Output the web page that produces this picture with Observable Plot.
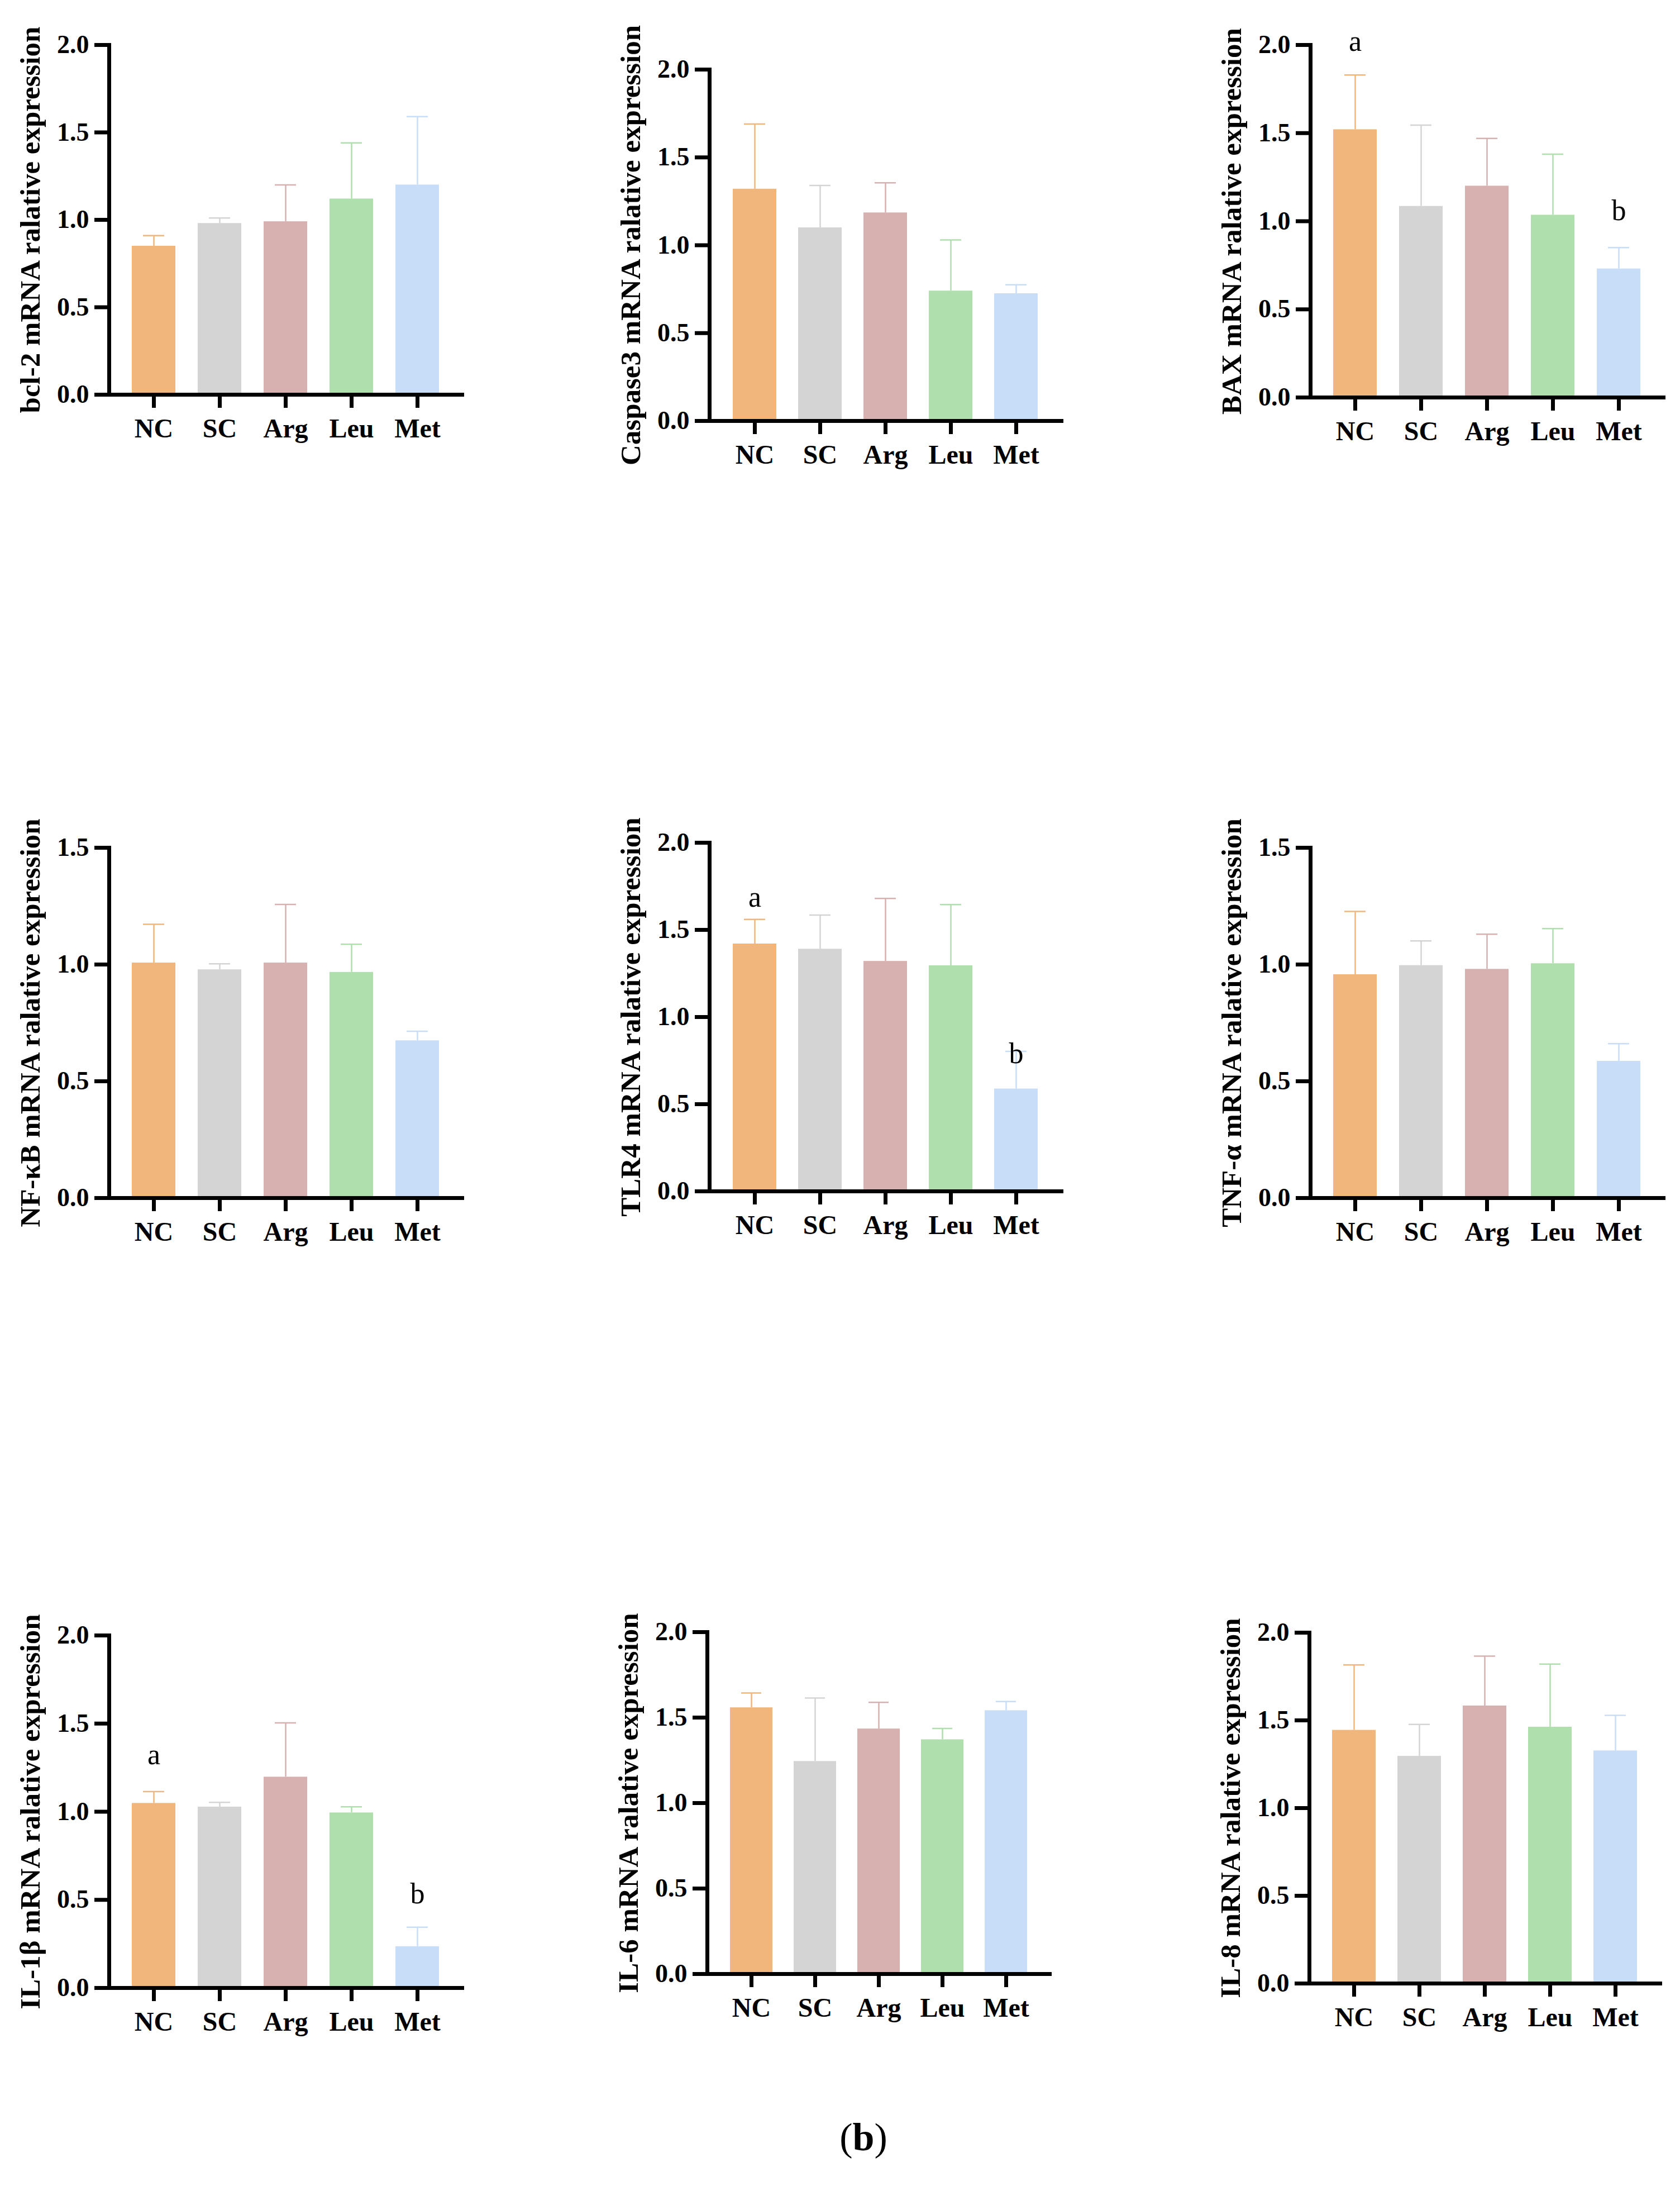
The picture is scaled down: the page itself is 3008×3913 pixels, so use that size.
<!DOCTYPE html>
<html>
<head>
<meta charset="utf-8">
<script src="https://cdn.jsdelivr.net/npm/d3@7"></script>
<script src="https://cdn.jsdelivr.net/npm/@observablehq/plot@0.6"></script>
<style>
  html, body { margin: 0; padding: 0; background: #fff; }
  #page { position: relative; width: 3008px; height: 3913px; background: #fff; overflow: hidden; }
  .panel { position: absolute; }
  .panel svg { overflow: visible; }
  #caption { position: absolute; left: 1346px; top: 3791px; width: 400px; text-align: center;
             font-family: "Liberation Serif", "Times New Roman", serif; font-size: 70px; line-height: 70px; color: #000; }
</style>
</head>
<body>
<div id="page"></div>
<script>
// ---------- data ----------
const groups = ["NC", "SC", "Arg", "Leu", "Met"];
const groupColors = ["#F0B67C", "#D4D4D4", "#D7B0B0", "#AEDFAC", "#C8DDF7"];

const bcl2Mean = [0.85, 0.98, 0.99, 1.12, 1.20];
const bcl2Err  = [0.06, 0.03, 0.21, 0.32, 0.39];

const casp3Mean = [1.32, 1.10, 1.185, 0.74, 0.725];
const casp3Err  = [0.37, 0.24, 0.17, 0.29, 0.05];

const baxMean = [1.52, 1.085, 1.20, 1.035, 0.73];
const baxErr  = [0.31, 0.46, 0.27, 0.345, 0.12];
const baxLetters = [{g: "NC", y: 1.966, t: "a"}, {g: "Met", y: 1.005, t: "b"}];

const nfkbMean = [1.007, 0.978, 1.007, 0.967, 0.674];
const nfkbErr  = [0.165, 0.025, 0.25, 0.12, 0.04];

const tlr4Mean = [1.42, 1.39, 1.32, 1.295, 0.588];
const tlr4Err  = [0.14, 0.195, 0.36, 0.35, 0.215];
const tlr4Letters = [{g: "NC", y: 1.634, t: "a"}, {g: "Met", y: 0.736, t: "b"}];

const tnfMean = [0.957, 0.996, 0.980, 1.004, 0.586];
const tnfErr  = [0.27, 0.105, 0.15, 0.15, 0.075];

const il1bMean = [1.048, 1.027, 1.197, 0.994, 0.235];
const il1bErr  = [0.066, 0.026, 0.307, 0.034, 0.11];
const il1bLetters = [{g: "NC", y: 1.27, t: "a"}, {g: "Met", y: 0.479, t: "b"}];

const il6Mean = [1.558, 1.244, 1.434, 1.371, 1.541];
const il6Err  = [0.086, 0.37, 0.155, 0.065, 0.053];

const il8Mean = [1.444, 1.296, 1.583, 1.462, 1.327];
const il8Err  = [0.372, 0.181, 0.283, 0.359, 0.202];

const ticks20 = [0, 0.5, 1.0, 1.5, 2.0];
const ticks15 = [0, 0.5, 1.0, 1.5];

// ---------- panels ----------
const panels = [
  {title: "bcl-2 mRNA ralative expression",    mean: bcl2Mean,  err: bcl2Err,  ymax: 2.0, ticks: ticks20, letters: [],          ax: 195,  top: 80,   bottom: 706,  len: 632},
  {title: "Caspase3 mRNA ralative expression", mean: casp3Mean, err: casp3Err, ymax: 2.0, ticks: ticks20, letters: [],          ax: 1270, top: 124,  bottom: 753,  len: 630},
  {title: "BAX mRNA ralative expression",      mean: baxMean,   err: baxErr,   ymax: 2.0, ticks: ticks20, letters: baxLetters,  ax: 2346, top: 80,   bottom: 711,  len: 632},
  {title: "NF-κB mRNA ralative expression",    mean: nfkbMean,  err: nfkbErr,  ymax: 1.5, ticks: ticks15, letters: [],          ax: 195,  top: 1517, bottom: 2144, len: 632},
  {title: "TLR4 mRNA ralative expression",     mean: tlr4Mean,  err: tlr4Err,  ymax: 2.0, ticks: ticks20, letters: tlr4Letters, ax: 1270, top: 1508, bottom: 2132, len: 630},
  {title: "TNF-α mRNA ralative expression",    mean: tnfMean,   err: tnfErr,   ymax: 1.5, ticks: ticks15, letters: [],          ax: 2346, top: 1517, bottom: 2144, len: 632},
  {title: "IL-1β mRNA ralative expression",    mean: il1bMean,  err: il1bErr,  ymax: 2.0, ticks: ticks20, letters: il1bLetters, ax: 195,  top: 2927, bottom: 3558, len: 632},
  {title: "IL-6 mRNA ralative expression",     mean: il6Mean,   err: il6Err,   ymax: 2.0, ticks: ticks20, letters: [],          ax: 1266, top: 2921, bottom: 3533, len: 613},
  {title: "IL-8 mRNA ralative expression",     mean: il8Mean,   err: il8Err,   ymax: 2.0, ticks: ticks20, letters: [],          ax: 2344, top: 2922, bottom: 3550, len: 628}
];

const FONT = "'Liberation Serif', 'Times New Roman', Times, serif";
const page = document.getElementById("page");
const mL = 200, mT = 90, mB = 120, mR = 20;

for (const p of panels) {
  const rows = groups.map((g, i) => ({g, m: p.mean[i], hi: p.mean[i] + p.err[i]}));
  const width = mL + p.len + mR;
  const height = mT + (p.bottom - p.top) + mB;
  const chart = Plot.plot({
    width, height,
    marginLeft: mL, marginTop: mT, marginBottom: mB, marginRight: mR,
    style: {fontFamily: FONT, fontWeight: "bold", color: "#000", background: "transparent", overflow: "visible"},
    x: {domain: groups, paddingInner: 0.336, paddingOuter: 0.34, align: 0.5, axis: null},
    y: {domain: [0, p.ymax], axis: null},
    color: {domain: groups, range: groupColors},
    marks: [
      Plot.barY(rows, {x: "g", y: "m", fill: "g"}),
      Plot.ruleX(rows, {x: "g", y1: "m", y2: "hi", stroke: "g", strokeWidth: 2.5}),
      Plot.tickY(rows, {x: "g", y: "hi", stroke: "g", strokeWidth: 2.5, insetLeft: 20, insetRight: 20}),
      Plot.text(p.letters, {x: "g", y: "y", text: "t", lineAnchor: "bottom", fontSize: 52, fontWeight: "normal", fill: "#000"}),
      Plot.frame({anchor: "left", stroke: "#000", strokeWidth: 7, strokeLinecap: "square"}),
      Plot.frame({anchor: "bottom", stroke: "#000", strokeWidth: 7, strokeLinecap: "square"}),
      Plot.axisY({ticks: p.ticks, tickSize: 26, tickPadding: 10, stroke: "#000", strokeWidth: 7,
                  tickFormat: d3.format(".1f"), fontSize: 46, fontWeight: "bold", fill: "#000", label: null}),
      Plot.axisX({tickSize: 24, tickPadding: 18, stroke: "#000", strokeWidth: 7,
                  fontSize: 48, fontWeight: "bold", fill: "#000", label: null}),
      Plot.text([p.title], {frameAnchor: "left", text: d => d, rotate: -90, dx: -125,
                            lineAnchor: "bottom", textAnchor: "middle", fontSize: 51, fontWeight: "bold", fill: "#000"})
    ]
  });
  const div = document.createElement("div");
  div.className = "panel";
  div.style.left = (p.ax - mL) + "px";
  div.style.top = (p.top - mT) + "px";
  div.appendChild(chart);
  page.appendChild(div);
}

const cap = document.createElement("div");
cap.id = "caption";
cap.innerHTML = "(<b>b</b>)";
page.appendChild(cap);
</script>
</body>
</html>
